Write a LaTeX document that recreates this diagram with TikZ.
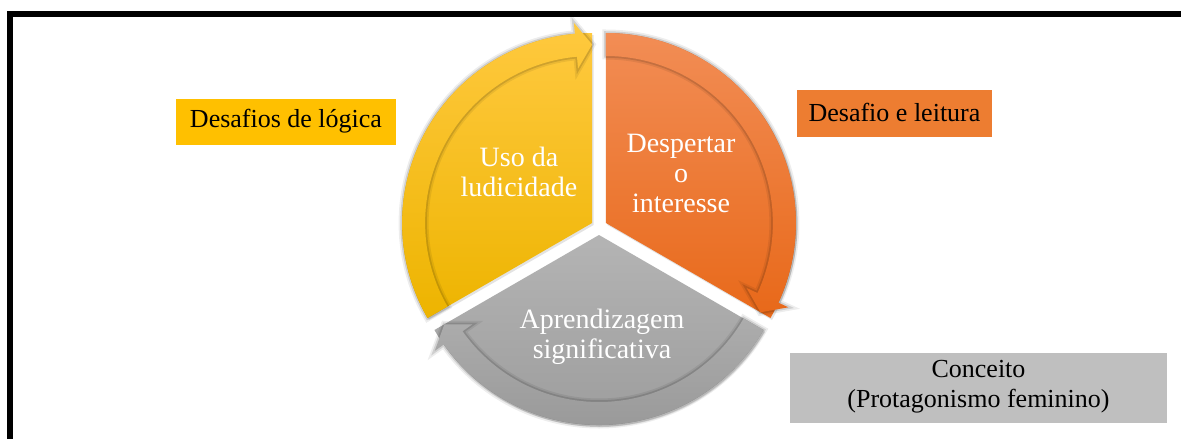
\documentclass[tikz,border=0pt]{standalone}
\usepackage{fontspec}
\setmainfont{Liberation Serif}
\usetikzlibrary{shadows}
\definecolor{ytop}{HTML}{FFC93F}
\definecolor{ybot}{HTML}{EDB400}
\definecolor{otop}{HTML}{F28D55}
\definecolor{obot}{HTML}{E8691A}
\definecolor{gtop}{HTML}{B4B4B4}
\definecolor{gbot}{HTML}{9A9A9A}
\definecolor{boxY}{HTML}{FFC000}
\definecolor{boxO}{HTML}{ED7D31}
\definecolor{boxG}{HTML}{BFBFBF}
\begin{document}
\begin{tikzpicture}[x=1pt,y=-1pt,
  seg/.style={drop shadow={opacity=0.22,shadow xshift=1.5pt,shadow yshift=-2pt}},
  softA/.style={draw=black,draw opacity=0.07,line width=7pt,line join=miter},
  softB/.style={draw=black,draw opacity=0.12,line width=3.5pt,line join=miter},
  intext/.style={text=white,align=center,font=\fontsize{28}{30}\selectfont,inner sep=0pt},
  labelbox/.style={font=\fontsize{26}{30}\selectfont,align=center,inner sep=0pt,anchor=center}]
\useasboundingbox (0,0) rectangle (1181,439);
\fill[white] (0,0) rectangle (1181,439);
% frame
\draw[line width=6pt] (10,14) rectangle (1200,470);
% yellow sector
\begin{scope}[shift={(592.1,223)}]
  \path[seg, top color=ytop, bottom color=ybot] (0,0) -- (150:190) arc[start angle=150,end angle=270,radius=190] -- cycle;
  \foreach \s in {softA,softB}
  \path[\s] (150:190) arc[start angle=150,end angle=264.8,radius=190]
    -- (264.8:201) -- (270:178.5) -- (264.8:155) -- (264.8:167)
    arc[start angle=264.8,end angle=150,radius=167] -- cycle;
  \path[top color=ytop, bottom color=ybot] (150:190) arc[start angle=150,end angle=264.8,radius=190]
    -- (264.8:201) -- (270:178.5) -- (264.8:155) -- (264.8:167)
    arc[start angle=264.8,end angle=150,radius=167] -- cycle;
\end{scope}
% orange sector
\begin{scope}[shift={(605.9,223)}]
  \path[seg, top color=otop, bottom color=obot] (0,0) -- (-90:190) arc[start angle=-90,end angle=30,radius=190] -- cycle;
  \foreach \s in {softA,softB}
  \path[\s] (-90:190) arc[start angle=-90,end angle=24.8,radius=190]
    -- (24.8:201) -- (30:178.5) -- (24.8:155) -- (24.8:167)
    arc[start angle=24.8,end angle=-90,radius=167] -- cycle;
  \path[top color=otop, bottom color=obot] (-90:190) arc[start angle=-90,end angle=24.8,radius=190]
    -- (24.8:201) -- (30:178.5) -- (24.8:155) -- (24.8:167)
    arc[start angle=24.8,end angle=-90,radius=167] -- cycle;
\end{scope}
% gray sector
\begin{scope}[shift={(599,235)}]
  \path[seg, top color=gtop, bottom color=gbot] (0,0) -- (30:190) arc[start angle=30,end angle=150,radius=190] -- cycle;
  \foreach \s in {softA,softB}
  \path[\s] (30:190) arc[start angle=30,end angle=144.8,radius=190]
    -- (144.8:201) -- (150:178.5) -- (144.8:155) -- (144.8:167)
    arc[start angle=144.8,end angle=30,radius=167] -- cycle;
  \path[top color=gtop!70!gbot, bottom color=gbot] (30:190) arc[start angle=30,end angle=144.8,radius=190]
    -- (144.8:201) -- (150:178.5) -- (144.8:155) -- (144.8:167)
    arc[start angle=144.8,end angle=30,radius=167] -- cycle;
\end{scope}
% texts in circle
\node[intext] (uso) at (519,172) {Uso da\\ludicidade};
\node[intext] (desp) at (681,173) {Despertar\\o\\interesse};
\node[intext] (apre) at (602,337) {Aprendizagem\\significativa};
% side boxes
\fill[boxY] (176,99) rectangle (396,145);
\node[labelbox] (logica) at (286,121) {Desafios de lógica};
\fill[boxO] (797,90) rectangle (992,137);
\node[labelbox] (leitura) at (894.5,112) {Desafio e leitura};
\fill[boxG] (790,353) rectangle (1167,423);
\node[labelbox] (conceito) at (978.5,387) {Conceito\\(Protagonismo feminino)};
\end{tikzpicture}
\end{document}
